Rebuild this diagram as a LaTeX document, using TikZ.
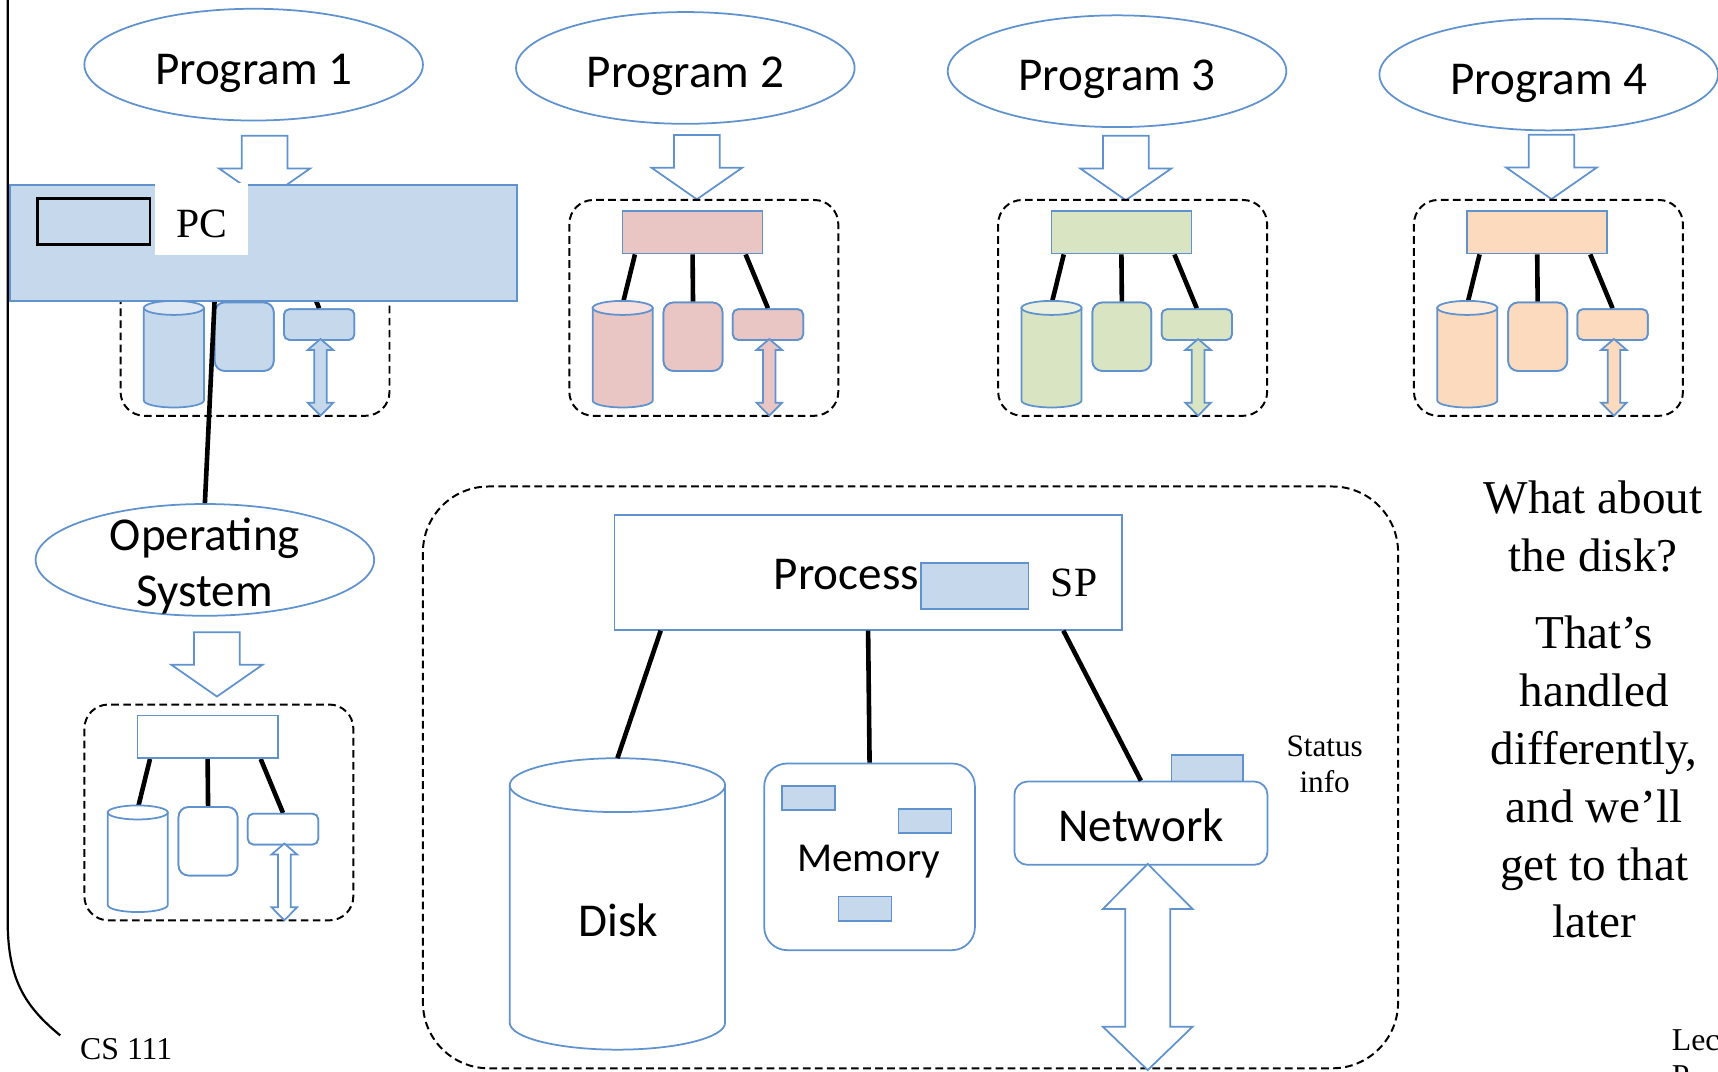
\documentclass[tikz,border=0pt]{standalone}
\usepackage{fontspec}
\setmainfont{Liberation Serif}
\newfontfamily\calfont{Carlito}
\usetikzlibrary{shapes.geometric,calc}
\definecolor{ln}{RGB}{96,146,206}
\definecolor{bfill}{RGB}{197,216,236}
\definecolor{btop}{RGB}{222,232,244}
\definecolor{pfill}{RGB}{233,197,196}
\definecolor{ptop}{RGB}{245,223,223}
\definecolor{gfill}{RGB}{216,228,194}
\definecolor{gtop}{RGB}{235,241,224}
\definecolor{ofill}{RGB}{251,218,189}
\definecolor{otop}{RGB}{253,235,220}
\tikzset{
  bl/.style={draw=ln, line width=1.6pt},
  dbox/.style={draw=black, line width=1.8pt, dash pattern=on 7pt off 4pt, rounded corners=22pt},
  conn/.style={draw=black, line width=4.2pt},
  boxn/.style={bl, anchor=north west, inner sep=0pt},
  progell/.style={bl, ellipse, fill=white, minimum width=309pt, minimum height=102pt, inner sep=0pt},
  calib/.style={font=\calfont\fontsize{43}{51}\selectfont, inner sep=0pt},
  tms/.style={font=\fontsize{43}{53}\selectfont, inner sep=0pt},
}
\newcommand{\minitree}[5]{%
\begin{scope}[shift={(#1,#2)}]
  \draw[dbox] (0,0) rectangle (245.5,197);
  \coordinate (#5c) at (49.4,92.3);
  \node[boxn, fill=#3, minimum width=53.8pt, minimum height=62.4pt, rounded corners=9pt] (#5m) at (85.2,92.8) {};
  \node[boxn, fill=#3, minimum width=64.2pt, minimum height=28pt, rounded corners=5pt] (#5n) at (148.4,98.9) {};
  \node[boxn, fill=#3, minimum width=127.8pt, minimum height=38.9pt] (#5t) at (47.8,9.2) {};
  \draw[conn] ([xshift=12.1pt]#5t.south west) -- (#5c);
  \draw[conn] (#5t.south) -- (#5m.north);
  \draw[conn] ([xshift=113.1pt]#5t.south west) -- (#5n.north);
  \node[boxn, fill=#3, minimum width=127.8pt, minimum height=38.9pt] at (47.8,9.2) {};
  \node[boxn, fill=#3, minimum width=53.8pt, minimum height=62.4pt, rounded corners=9pt] at (85.2,92.8) {};
  \node[boxn, fill=#3, minimum width=64.2pt, minimum height=28pt, rounded corners=5pt] at (148.4,98.9) {};
  \filldraw[bl, fill=#3] (21.3,98.5) -- (21.3,183) arc[start angle=180, end angle=0, x radius=27.4, y radius=6.4] -- (76.1,98.5) -- cycle;
  \filldraw[bl, fill=#4] (48.7,98.5) ellipse[x radius=27.4, y radius=6.4];
  \filldraw[bl, fill=#3] (182.5,126.9) -- (194.2,136.9) -- (188.25,136.9) -- (188.25,185) -- (194.2,185) -- (182.5,196.9) -- (170.8,185) -- (176.75,185) -- (176.75,136.9) -- (170.8,136.9) -- cycle;
\end{scope}}
\newcommand{\blkdown}[2]{%
  \filldraw[bl, fill=white] ({#1-20.85},{#2}) -- ({#1+20.85},{#2}) -- ({#1+20.85},{#2+29.8}) -- ({#1+41.5},{#2+29.8}) -- ({#1},{#2+58.7}) -- ({#1-41.5},{#2+29.8}) -- ({#1-20.85},{#2+29.8}) -- cycle;}
\begin{document}
\begin{tikzpicture}[x=1pt, y=-1pt]
\useasboundingbox (0,0) rectangle (1568,978);
\clip (0,0) rectangle (1568,978);
\fill[white] (0,0) rectangle (1568,978);

% left border
\coordinate (lbA) at (7,-3);
\coordinate (lbB) at (7,840);
\coordinate (lbC) at (55,945);
\draw[line width=2pt] (lbA) -- (lbB) .. controls (7,893) and (22,918) .. (lbC);

% program ellipses
\node[progell] (p1) at (231.5,59) {};
\node[calib, anchor=base] (p1t) at (231.5,77) {Program 1};
\node[progell] (p2) at (625.5,62) {};
\node[calib, anchor=base] (p2t) at (625.5,80) {Program 2};
\node[progell] (p3) at (1019.5,65) {};
\node[calib, anchor=base] (p3t) at (1019.5,83) {Program 3};
\node[progell] (p4) at (1413.5,68) {};
\node[calib, anchor=base] (p4t) at (1413.5,86) {Program 4};

% block arrows
\blkdown{241.5}{124}
\blkdown{636}{123.2}
\blkdown{1027.5}{124}
\blkdown{1416}{123}
\blkdown{198}{577}

% mini trees
\minitree{110}{182.5}{bfill}{btop}{ta}
\minitree{519.6}{182.5}{pfill}{ptop}{tb}
\minitree{911}{182.5}{gfill}{gtop}{tc}
\minitree{1290.5}{182.5}{ofill}{otop}{td}
\minitree{77}{643}{white}{white}{te}

% OS
\node[progell] (os) at (187,511) {};
\node[calib, anchor=base] (os1) at (187,502.5) {Operating};
\node[calib, anchor=base] (os2) at (187,553.5) {System};
\coordinate (osl) at (197.5,240);
\draw[conn] (osl) -- (os.north);

% PC bar
\node[boxn, fill=bfill, minimum width=463pt, minimum height=106pt] (pcbar) at (8,168) {};
\node[fill=white, anchor=north west, minimum width=85pt, minimum height=66pt, inner sep=0pt] (pcbox) at (141,166.5) {};
\node[font=\fontsize{38}{44}\selectfont, anchor=base, inner sep=0pt] (pct) at (184,217) {PC};
\node[draw=black, line width=2.2pt, fill=bfill, anchor=north west, minimum width=103pt, minimum height=42pt, inner sep=0pt] (pcreg) at (33,180) {};

% big process box
\draw[dbox, rounded corners=60pt] (386,444) rectangle (1276,975);
\node[boxn, fill=white, minimum width=463pt, minimum height=105pt] (proc) at (560,469) {};
\node[calib, anchor=base west] (proct) at (706,538) {Process};
\node[boxn, fill=bfill, minimum width=98pt, minimum height=42pt] (sp) at (840,513) {};
\node[font=\fontsize{38}{44}\selectfont, anchor=base west, inner sep=0pt] (spt) at (959,544.6) {SP};

% disk
\coordinate (disktop) at (563.5,692);
\filldraw[bl, fill=white] (465.2,716.6) -- (465.2,933.4) arc[start angle=180, end angle=0, x radius=98.3, y radius=24.6] -- (661.8,716.6);
\filldraw[bl, fill=white] (563.5,716.6) ellipse[x radius=98.3, y radius=24.6];
\node[calib, anchor=base] (diskt) at (564.5,855) {Disk};

% memory
\node[boxn, fill=white, minimum width=192.3pt, minimum height=170.4pt, rounded corners=21pt] (mem) at (696.7,696) {};
\node[boxn, fill=bfill, minimum width=48.4pt, minimum height=22pt] (mr1) at (712.8,716.4) {};
\node[boxn, fill=bfill, minimum width=48.3pt, minimum height=21.6pt] (mr2) at (819.3,737.7) {};
\node[boxn, fill=bfill, minimum width=48.4pt, minimum height=22.1pt] (mr3) at (764.5,817.5) {};
\node[font=\calfont\fontsize{37.5}{45}\selectfont, inner sep=0pt, anchor=base] (memt) at (793,795.5) {Memory};

% network
\node[boxn, fill=bfill, minimum width=65.6pt, minimum height=24.3pt] (stat) at (1068.4,688.2) {};
\node[boxn, fill=white, minimum width=231pt, minimum height=76pt, rounded corners=12pt] (net) at (925,712.5) {};
\node[calib, anchor=base] (nett) at (1041.5,768) {Network};
\filldraw[bl, fill=white] (1047.5,788.5) -- (1088.5,829.6) -- (1068.1,829.6) -- (1068.1,937) -- (1088.5,937) -- (1047.5,976.6) -- (1006.5,937) -- (1026.9,937) -- (1026.9,829.6) -- (1006.5,829.6) -- cycle;
\node[font=\fontsize{28.5}{33}\selectfont, inner sep=0pt, anchor=base] (st1) at (1209,690) {Status};
\node[font=\fontsize{28.5}{33}\selectfont, inner sep=0pt, anchor=base] (st2) at (1209,723) {info};

% connectors
\draw[conn] ([xshift=43pt]proc.south west) -- (disktop);
\draw[conn] (proc.south) -- (mem.north);
\draw[conn] ([xshift=410.5pt]proc.south west) -- (net.north);

% right text
\node[tms, anchor=base] (r1) at (1454,469) {What about};
\node[tms, anchor=base] (r2) at (1454,522) {the disk?};
\node[tms, anchor=base] (r3) at (1455,592) {That’s};
\node[tms, anchor=base] (r4) at (1455,644.8) {handled};
\node[tms, anchor=base] (r5) at (1455,697.6) {differently,};
\node[tms, anchor=base] (r6) at (1455,750.4) {and we’ll};
\node[tms, anchor=base] (r7) at (1455,803.2) {get to that};
\node[tms, anchor=base] (r8) at (1455,856) {later};

% footers
\node[font=\fontsize{29}{33}\selectfont, inner sep=0pt, anchor=base west] (cs) at (73,967) {CS 111};
\node[font=\fontsize{29}{33}\selectfont, inner sep=0pt, anchor=base west] (lec1) at (1525.7,959) {Lec};
\node[font=\fontsize{29}{33}\selectfont, inner sep=0pt, anchor=base west] (lec2) at (1525.7,992) {P};
\end{tikzpicture}
\end{document}
